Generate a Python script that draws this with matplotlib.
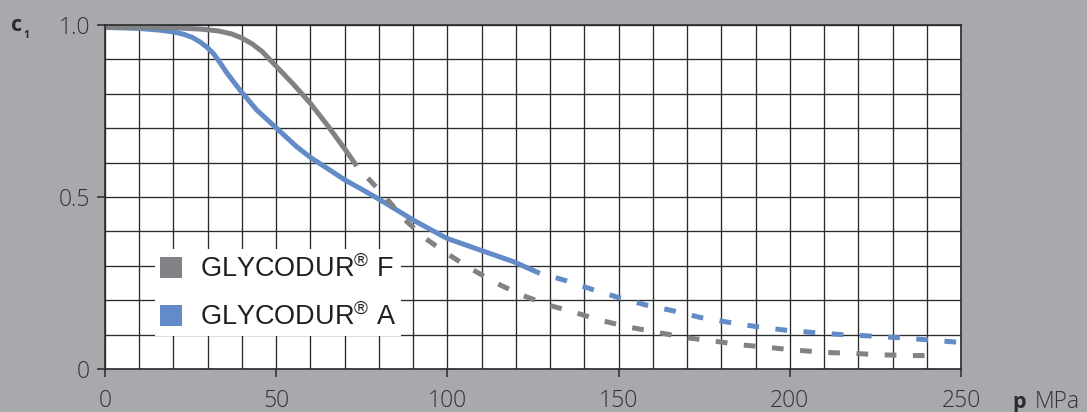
from matplotlib import pyplot
from matplotlib.patches import Patch
import numpy as np

# GLYCODUR F, measured range (solid) and extrapolated (dashed)
f_p = [0, 10, 20, 28, 33, 37, 40, 43, 46, 50, 55, 60, 65, 70, 73.5]
f_c = [0.993, 0.993, 0.992, 0.988, 0.983, 0.974, 0.962, 0.945, 0.922, 0.88, 0.828, 0.772, 0.708, 0.64, 0.59]
f_p_ext = [73.5, 76.4, 81.8, 87.1, 93.5, 99.8, 106.6, 114.4, 121.7, 129.5, 137.3, 145.3, 153.5,
           161.6, 169.7, 178, 186, 194.4, 202.7, 211, 219.2, 227.5, 235.8, 244]
f_c_ext = [0.59, 0.559, 0.501, 0.438, 0.38, 0.336, 0.293, 0.249, 0.215, 0.186, 0.164, 0.14, 0.121,
           0.106, 0.091, 0.081, 0.07, 0.062, 0.054, 0.048, 0.045, 0.041, 0.039, 0.039]

# GLYCODUR A
a_p = [0, 10, 16, 20, 23, 25.5, 27.7, 29.7, 31.6, 33.5, 35.5, 39.4, 44.3, 50.1, 56, 60, 65.7, 70,
       75.4, 81.3, 90, 99.8, 109.5, 119.3, 127]
a_c = [0.993, 0.99, 0.985, 0.98, 0.973, 0.964, 0.951, 0.936, 0.918, 0.892, 0.862, 0.811, 0.753, 0.70,
       0.646, 0.615, 0.578, 0.55, 0.52, 0.486, 0.433, 0.38, 0.346, 0.312, 0.278]
a_p_ext = [127, 133.9, 142.1, 149.9, 158, 166, 173.8, 182, 190.3, 198.6, 206.9, 215.2, 223.4, 231.7,
           240, 250]
a_c_ext = [0.278, 0.259, 0.232, 0.208, 0.186, 0.169, 0.150, 0.136, 0.123, 0.113, 0.106, 0.10, 0.096,
           0.091, 0.085, 0.077]

labels = ['GLYCODUR$^{\\mathrm{®}}$ F', 'GLYCODUR$^{\\mathrm{®}}$ A']
x_ticks = [0, 50, 100, 150, 200, 250]
y_ticks = [0, 0.5, 1.0]
y_tick_labels = ['0', '0.5', '1.0']

BG = '#a7a9ac'
GRAY = '#808285'
BLUE = '#628bc8'
INK = '#2b2b2b'
W, H = 1087, 412


def main():
    pyplot.rcParams['font.family'] = ['Open Sans', 'DejaVu Sans']
    pyplot.rcParams['mathtext.fontset'] = 'custom'
    pyplot.rcParams['mathtext.rm'] = 'Liberation Sans'

    fig = pyplot.figure(figsize=(W / 100, H / 100), dpi=100, facecolor=BG)
    ax = fig.add_axes([105 / W, 1 - 369 / H, (961 - 105) / W, (369 - 25) / H])
    ax.set_facecolor('white')

    lw = 3.6
    dash = (2.35, 3.3)
    ax.plot(a_p, a_c, color=BLUE, lw=lw, solid_capstyle='butt', solid_joinstyle='round')
    ax.plot(a_p_ext, a_c_ext, color=BLUE, lw=lw, linestyle=(dash[0], dash), dash_capstyle='butt')
    ax.plot(f_p, f_c, color=GRAY, lw=lw, solid_capstyle='butt', solid_joinstyle='round')
    ax.plot(f_p_ext, f_c_ext, color=GRAY, lw=lw, linestyle=(dash[0], dash), dash_capstyle='butt')

    ax.set_xlim(0, 250)
    ax.set_ylim(0, 1)

    ax.set_xticks(x_ticks)
    ax.set_xticklabels([str(t) for t in x_ticks])
    ax.set_yticks(y_ticks)
    ax.set_yticklabels(y_tick_labels)
    ax.set_xticks(np.arange(0, 251, 10), minor=True)
    ax.set_yticks(np.arange(0, 1.01, 0.1), minor=True)

    ax.set_axisbelow(True)
    ax.grid(which='both', color=INK, lw=0.95)
    ax.tick_params(which='minor', length=0)
    ax.tick_params(which='major', direction='out', length=5.8, width=1.1, color=INK,
                   labelsize=16.5, labelcolor='#333333')
    ax.tick_params(axis='x', pad=8.6)
    ax.tick_params(axis='y', pad=5)
    for label in ax.get_xticklabels() + ax.get_yticklabels():
        label.set_fontweight('light')

    for spine in ax.spines.values():
        spine.set_color(INK)
        spine.set_linewidth(1.2)

    handles = [Patch(facecolor=GRAY, edgecolor='none'), Patch(facecolor=BLUE, edgecolor='none')]
    leg = ax.legend(handles, labels, loc='lower left',
                    bbox_to_anchor=((155 - 105) / 856, (369 - 336) / 344),
                    borderaxespad=0, frameon=True, fancybox=False, facecolor='white',
                    edgecolor='none', framealpha=1,
                    prop={'family': ['Liberation Sans', 'DejaVu Sans'], 'size': 19.5},
                    handlelength=0.8, handleheight=0.8, handletextpad=0.65,
                    labelspacing=0.72, borderpad=0.2)
    for t in leg.get_texts():
        t.set_color('#231f20')

    # axis captions
    fig.text(11 / W, 1 - 31 / H, 'c', fontsize=15.5, fontweight='bold', color=INK,
             ha='left', va='baseline')
    fig.text(23 / W, 1 - 38.3 / H, '1', fontsize=7.5, fontweight='bold', color=INK,
             ha='left', va='baseline')
    fig.text(1012 / W, 1 - 408 / H, 'p', fontsize=15.5, fontweight='bold', color=INK,
             ha='left', va='baseline')
    fig.text(1035 / W, 1 - 408 / H, 'MPa', fontsize=16.5, fontweight='light', color='#333333',
             ha='left', va='baseline')

    fig.savefig('out.png', dpi=100, facecolor=BG)


if __name__ == '__main__':
    main()
